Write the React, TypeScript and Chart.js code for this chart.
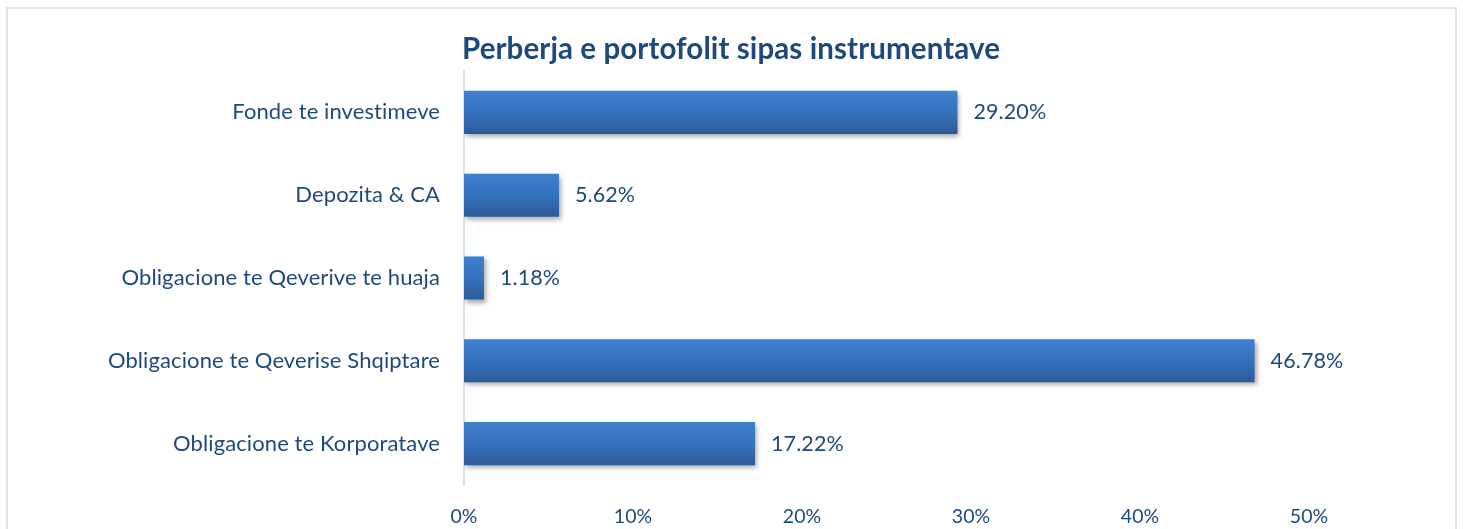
import React, { useEffect, useRef } from "react";
import { Chart, registerables } from "chart.js";

Chart.register(...registerables);

const categories = [
  "Fonde te investimeve",
  "Depozita & CA",
  "Obligacione te Qeverive te huaja",
  "Obligacione te Qeverise Shqiptare",
  "Obligacione te Korporatave",
];
const shares = [29.2, 5.62, 1.18, 46.78, 17.22];
const titleText = "Perberja e portofolit sipas instrumentave";
const axisMin = 0;
const axisMax = 50;
const axisStep = 10;

const TEXT = "#1f497d";
const FONT = "Lato, 'Open Sans', sans-serif";

const barStyle = {
  id: "barStyle",
  beforeDraw(chart: any) {
    chart.ctx.letterSpacing = "0.1px";
  },
  beforeDatasetsDraw(chart: any) {
    const ctx = chart.ctx;
    const meta = chart.getDatasetMeta(0);
    meta.data.forEach((el: any) => {
      const top = el.y - el.height / 2;
      const g = ctx.createLinearGradient(0, top, 0, top + el.height);
      g.addColorStop(0, "#3e80d0");
      g.addColorStop(0.5, "#3672bd");
      g.addColorStop(1, "#2c5b98");
      el.options = Object.assign({}, el.options, { backgroundColor: g });
    });
    ctx.save();
    ctx.shadowColor = "rgba(0,0,0,0.35)";
    ctx.shadowBlur = 5;
    ctx.shadowOffsetX = 2;
    ctx.shadowOffsetY = 3;
  },
  afterDatasetsDraw(chart: any) {
    const ctx = chart.ctx;
    ctx.restore();
    const meta = chart.getDatasetMeta(0);
    ctx.save();
    ctx.fillStyle = TEXT;
    ctx.font = `21.5px ${FONT}`;
    ctx.textBaseline = "middle";
    ctx.textAlign = "left";
    meta.data.forEach((el: any, i: number) => {
      ctx.fillText(shares[i].toFixed(2) + "%", el.x + 16, el.y);
    });
    ctx.restore();
  },
  afterDraw(chart: any) {
    const ctx = chart.ctx;
    ctx.save();
    ctx.fillStyle = TEXT;
    ctx.font = `bold 29.5px ${FONT}`;
    ctx.textAlign = "center";
    ctx.textBaseline = "middle";
    ctx.fillText(titleText, 731, 49);
    ctx.restore();
  },
};

export default function App() {
  const ref = useRef<HTMLCanvasElement>(null);
  useEffect(() => {
    document.body.style.margin = "0";
    const chart = new Chart(ref.current!, {
      type: "bar",
      data: {
        labels: categories,
        datasets: [
          {
            data: shares,
            backgroundColor: () => "#3672bd",
            borderWidth: 0,
            categoryPercentage: 1,
            barPercentage: 0.52,
          },
        ],
      },
      options: {
        indexAxis: "y",
        animation: false,
        responsive: false,
        maintainAspectRatio: false,
        layout: { padding: { left: 0, right: 154, top: 71, bottom: 0 } },
        plugins: {
          legend: { display: false },
          tooltip: { enabled: false },
          title: { display: false },
        },
        scales: {
          x: {
            min: axisMin,
            max: axisMax,
            grid: { display: false, drawTicks: false },
            border: { display: false },
            ticks: {
              stepSize: axisStep,
              color: TEXT,
              font: { family: FONT, size: 19.5 },
              padding: 20,
              callback: (v: any) => v + "%",
            },
            afterFit: (s: any) => {
              s.height = 44;
            },
          },
          y: {
            grid: { display: false, drawTicks: false },
            border: { display: true, color: "#d5e2f1", width: 2 },
            ticks: {
              color: TEXT,
              font: { family: FONT, size: 22 },
              padding: 24,
            },
            afterFit: (s: any) => {
              s.width = 464;
            },
          },
        },
      },
      plugins: [barStyle],
    });
    return () => chart.destroy();
  }, []);
  return (
    <div style={{ position: "relative", width: 1463, height: 529, overflow: "hidden", background: "#fff" }}>
      <div
        style={{
          position: "absolute",
          left: 6,
          top: 7,
          width: 1447,
          height: 560,
          border: "2px solid #dae4f1",
        }}
      />
      <canvas ref={ref} width={1463} height={529} style={{ position: "absolute", left: 0, top: 0 }} />
    </div>
  );
}
